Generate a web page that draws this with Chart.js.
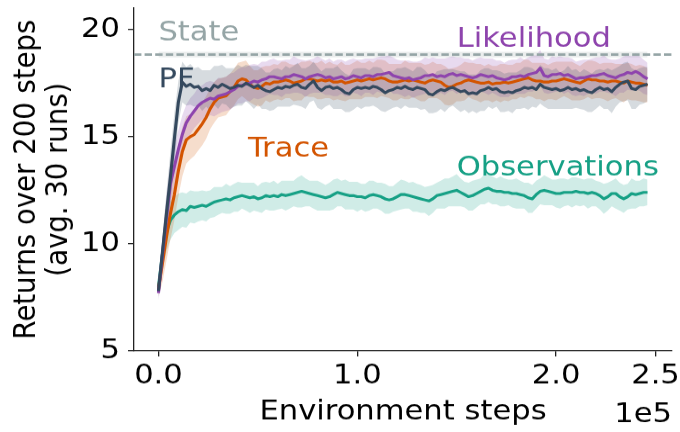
<!DOCTYPE html>
<html>
<head>
<meta charset="utf-8">
<script src="https://cdn.jsdelivr.net/npm/chart.js@4.4.1/dist/chart.umd.min.js"></script>
<style>
  html, body { margin: 0; padding: 0; background: #fff; overflow: hidden; }
  #wrap { width: 680px; height: 480px; transform: scale(1, 0.9); transform-origin: 0 0; }
  canvas { display: block; }
</style>
</head>
<body>
<div id="wrap"><canvas id="c" width="680" height="480"></canvas></div>
<script>
// ---------------- data (environment steps in thousands) ----------------
const stepsK = [
  0,2,4,6,8,10,12,14,16,18,
  20,22,24,26,28,30,32,34,36,38,
  40,42,44,46,48,50,52,54,56,58,
  60,62,64,66,68,70,72,74,76,78,
  80,82,84,86,88,90,92,94,96,98,
  100,102,104,106,108,110,112,114,116,118,
  120,122,124,126,128,130,132,134,136,138,
  140,142,144,146,148,150,152,154,156,158,
  160,162,164,166,168,170,172,174,176,178,
  180,182,184,186,188,190,192,194,196,198,
  200,202,204,206,208,210,212,214,216,218,
  220,222,224,226,228,230,232,234,236,238,
  240,242,244,246
];

const pfMean = [
  7.8,9.6,11.4,13.1,14.9,16.6,17.55,17.35,17.45,17.3,
  17.35,17.15,17.25,17.15,17.4,17.3,17.45,17.35,17.25,17.3,
  17.4,17.35,17.5,17.4,17.3,17.4,17.25,17.15,17.1,17.2,
  17.3,17.25,17.35,17.3,17.4,17.45,17.3,17.25,17.45,17.6,
  17.3,17.15,17.3,17.35,17.25,17.3,17.2,17.05,17.0,17.2,
  17.3,17.25,17.3,17.25,17.35,17.3,17.2,17.05,17.15,17.2,
  17.3,17.25,17.35,17.25,17.2,17.3,17.25,17.2,17.0,16.95,
  17.1,17.2,17.15,17.25,17.3,17.2,17.1,17.15,17.0,17.05,
  17.0,17.15,17.2,17.3,17.2,17.25,17.1,17.05,17.1,17.05,
  17.15,17.2,17.3,17.25,17.3,17.2,17.45,17.3,17.25,17.2,
  17.25,17.15,17.2,17.3,17.2,17.25,17.15,17.2,17.1,17.05,
  17.2,17.3,17.2,17.25,17.1,17.3,17.45,17.55,17.6,17.25,
  17.2,17.35,17.4,17.45
];
const pfSpread = [
  0.35,0.7,1.0,1.2,1.2,1.0,0.95,0.9,0.95,0.9,
  0.9,0.95,0.85,0.95,0.9,1.0,0.9,0.85,0.95,0.9,
  0.95,0.9,0.85,0.9,1.0,0.9,0.95,0.85,0.9,0.95,
  0.9,0.85,0.95,0.9,0.9,1.0,0.9,0.95,0.85,0.9,
  0.95,0.9,0.9,0.85,0.95,1.0,0.9,0.9,0.85,0.95,
  0.9,0.95,0.9,0.85,0.9,0.95,1.0,0.9,0.9,0.85,
  0.9,0.95,0.9,0.9,0.85,0.95,1.0,0.9,0.9,0.85,
  0.95,0.9,1.0,0.9,0.85,0.9,0.95,0.9,0.9,0.85,
  0.9,0.95,1.0,0.9,0.9,0.85,0.95,0.9,0.9,0.95,
  0.85,0.9,0.95,1.0,0.9,0.85,0.9,0.9,0.95,0.9,
  0.95,0.85,0.9,1.0,0.9,0.9,0.85,0.95,0.95,0.9,
  0.9,0.85,0.9,0.95,1.0,0.9,0.85,0.9,0.9,0.95,
  0.9,0.85,0.85,0.8
];

const likMean = [
  7.7,9.5,11.2,12.8,13.6,14.4,15.1,15.65,15.95,16.2,
  16.45,16.6,16.7,16.8,16.75,16.9,16.95,17.0,17.1,17.2,
  17.35,17.4,17.45,17.5,17.6,17.55,17.65,17.7,17.8,17.8,
  17.75,17.7,17.8,17.8,17.9,17.85,17.8,17.7,17.8,17.85,
  17.9,17.85,17.75,17.8,17.7,17.75,17.8,17.7,17.75,17.85,
  17.8,17.75,17.85,17.85,17.8,17.9,17.9,17.95,18.0,17.85,
  17.8,17.75,17.7,17.75,17.65,17.7,17.75,17.85,17.85,17.9,
  17.8,17.85,17.8,17.9,17.95,17.85,17.9,17.85,17.8,17.75,
  17.8,17.9,17.85,17.8,17.85,17.75,17.7,17.65,17.7,17.8,
  17.8,17.85,17.8,17.9,17.95,18.0,18.2,17.85,17.8,17.9,
  17.9,17.95,17.85,17.9,17.8,17.7,17.75,17.75,17.8,17.85,
  17.85,17.9,17.95,17.85,17.8,17.75,17.85,17.9,18.0,17.95,
  18.05,17.95,17.8,17.7
];
const likSpread = [
  0.35,0.8,1.0,1.0,0.95,0.9,0.9,0.85,0.85,0.8,
  0.85,0.8,0.85,0.8,0.8,0.85,0.8,0.8,0.85,0.8,
  0.8,0.85,0.8,0.85,0.8,0.8,0.85,0.8,0.8,0.85,
  0.8,0.85,0.8,0.8,0.85,0.8,0.8,0.85,0.8,0.8,
  0.85,0.8,0.8,0.85,0.8,0.85,0.8,0.8,0.85,0.8,
  0.8,0.85,0.8,0.8,0.85,0.8,0.85,0.8,0.8,0.85,
  0.8,0.8,0.85,0.8,0.85,0.8,0.8,0.85,0.8,0.8,
  0.85,0.8,0.85,0.8,0.8,0.85,0.8,0.8,0.85,0.8,
  0.85,0.8,0.8,0.85,0.8,0.8,0.85,0.8,0.85,0.8,
  0.8,0.85,0.8,0.8,0.85,0.8,0.85,0.8,0.8,0.85,
  0.8,0.8,0.85,0.8,0.85,0.8,0.8,0.85,0.8,0.8,
  0.85,0.8,0.85,0.8,0.8,0.85,0.8,0.85,0.8,0.8,
  0.85,0.8,0.8,0.75
];

const traceMean = [
  7.9,9.1,10.3,11.4,12.3,13.4,14.3,14.85,15.0,15.1,
  15.35,15.6,15.9,16.3,16.6,16.8,16.85,16.9,17.1,17.3,
  17.6,17.7,17.65,17.45,17.3,17.25,17.35,17.5,17.45,17.55,
  17.55,17.6,17.65,17.6,17.5,17.55,17.6,17.7,17.7,17.65,
  17.6,17.65,17.6,17.65,17.55,17.55,17.6,17.5,17.55,17.6,
  17.65,17.6,17.65,17.7,17.65,17.7,17.75,17.7,17.6,17.55,
  17.55,17.6,17.65,17.6,17.65,17.6,17.55,17.5,17.6,17.65,
  17.6,17.55,17.4,17.3,17.35,17.45,17.5,17.6,17.65,17.6,
  17.55,17.5,17.5,17.55,17.45,17.5,17.5,17.55,17.5,17.55,
  17.6,17.65,17.7,17.75,17.65,17.6,17.6,17.55,17.55,17.6,
  17.6,17.65,17.7,17.65,17.6,17.55,17.5,17.6,17.7,17.65,
  17.65,17.6,17.6,17.55,17.6,17.6,17.55,17.5,17.6,17.55,
  17.5,17.5,17.45,17.4
];
const traceSpread = [
  0.35,0.9,1.1,1.2,1.2,1.2,1.15,1.1,1.05,1.0,
  1.0,1.0,1.0,0.95,0.95,0.9,0.9,0.9,0.85,0.85,
  0.85,0.8,0.9,0.85,0.8,0.85,0.9,0.8,0.85,0.85,
  0.8,0.9,0.85,0.8,0.85,0.85,0.9,0.8,0.85,0.8,
  0.85,0.9,0.8,0.85,0.85,0.8,0.9,0.85,0.8,0.85,
  0.9,0.85,0.8,0.85,0.8,0.9,0.85,0.85,0.8,0.85,
  0.85,0.8,0.9,0.85,0.8,0.85,0.9,0.85,0.8,0.85,
  0.8,0.85,0.9,0.85,0.85,0.8,0.85,0.9,0.8,0.85,
  0.85,0.9,0.8,0.85,0.85,0.8,0.9,0.85,0.85,0.8,
  0.85,0.8,0.9,0.85,0.8,0.85,0.85,0.9,0.8,0.85,
  0.9,0.85,0.8,0.85,0.9,0.85,0.8,0.85,0.85,0.9,
  0.85,0.8,0.85,0.9,0.85,0.8,0.85,0.9,0.85,0.85,
  0.8,0.85,0.85,0.8
];

const obsMean = [
  8.0,9.5,10.55,11.1,11.35,11.5,11.6,11.55,11.75,11.7,
  11.75,11.8,11.75,11.85,11.95,12.0,12.05,12.1,12.05,12.15,
  12.2,12.25,12.2,12.15,12.2,12.1,12.15,12.25,12.2,12.25,
  12.2,12.3,12.25,12.3,12.35,12.4,12.45,12.4,12.35,12.3,
  12.25,12.2,12.15,12.2,12.3,12.4,12.35,12.3,12.25,12.25,
  12.2,12.2,12.15,12.25,12.3,12.25,12.2,12.1,12.05,12.1,
  12.2,12.3,12.3,12.25,12.2,12.15,12.1,12.05,12.0,12.1,
  12.25,12.3,12.35,12.4,12.45,12.5,12.4,12.3,12.2,12.25,
  12.35,12.45,12.55,12.6,12.5,12.45,12.45,12.4,12.4,12.35,
  12.35,12.3,12.25,12.15,12.1,12.3,12.45,12.5,12.45,12.4,
  12.35,12.35,12.4,12.4,12.4,12.45,12.4,12.4,12.35,12.4,
  12.35,12.25,12.1,12.2,12.35,12.35,12.2,12.1,12.2,12.35,
  12.3,12.35,12.4,12.4
];
const obsSpread = [
  0.45,0.8,0.9,0.9,0.85,0.85,0.8,0.8,0.75,0.75,
  0.7,0.7,0.7,0.65,0.7,0.65,0.6,0.7,0.65,0.65,
  0.7,0.6,0.65,0.7,0.65,0.6,0.7,0.65,0.65,0.7,
  0.6,0.65,0.7,0.65,0.6,0.7,0.75,0.65,0.6,0.65,
  0.7,0.65,0.6,0.65,0.7,0.65,0.6,0.7,0.65,0.65,
  0.7,0.6,0.65,0.7,0.65,0.6,0.65,0.7,0.65,0.6,
  0.65,0.7,0.65,0.6,0.7,0.65,0.65,0.6,0.7,0.65,
  0.6,0.65,0.7,0.65,0.7,0.75,0.65,0.6,0.65,0.7,
  0.65,0.6,0.7,0.65,0.65,0.6,0.7,0.65,0.6,0.65,
  0.7,0.65,0.6,0.7,0.65,0.65,0.6,0.7,0.65,0.6,
  0.65,0.7,0.65,0.6,0.7,0.65,0.65,0.6,0.7,0.65,
  0.6,0.65,0.7,0.65,0.6,0.7,0.65,0.65,0.6,0.7,
  0.65,0.6,0.65,0.6
];

const stateReturn = 18.83;
const stateSpread = 0.13;

const yTicks = [5, 10, 15, 20];
const xTicks = [0, 100000, 200000, 250000];
const xTickLabels = ['0.0', '1.0', '2.0', '2.5'];
const xOffsetLabel = '1e5';

// ---------------- styles ----------------
const FONT = 'DejaVu Sans';
const FS = 30.6;
const COLORS = {
  pf: '#34495e', lik: '#8e44ad', trace: '#d35400', obs: '#16a085', state: '#95a5a6'
};
const rgba = (hex, a) => {
  const n = parseInt(hex.slice(1), 16);
  return `rgba(${(n >> 16) & 255},${(n >> 8) & 255},${n & 255},${a})`;
};
const seriesLabels = [
  { text: 'State',        color: COLORS.state, x: 0,      y: 19.5 },
  { text: 'PF',           color: COLORS.pf,    x: 0,      y: 17.32 },
  { text: 'Likelihood',   color: COLORS.lik,   x: 150000, y: 19.19 },
  { text: 'Trace',        color: COLORS.trace, x: 45000,  y: 14.06 },
  { text: 'Observations', color: COLORS.obs,   x: 150000, y: 13.2 }
];

// ---------------- datasets ----------------
const pts = (vals) => vals.map((v, i) => ({ x: stepsK[i] * 1000, y: v }));
const upper = (m, s) => m.map((v, i) => v + s[i]);
const lower = (m, s) => m.map((v, i) => v - s[i]);

function meanLine(label, vals, color) {
  return { label, data: pts(vals), borderColor: color, borderWidth: 3.1,
    pointRadius: 0, fill: false, tension: 0, borderJoinStyle: 'round' };
}
function bandPair(label, m, s, color) {
  return [
    { label: label + ' upper', data: pts(upper(m, s)), borderWidth: 0, borderColor: 'rgba(0,0,0,0)',
      backgroundColor: rgba(color, 0.2), pointRadius: 0, fill: '+1', tension: 0 },
    { label: label + ' lower', data: pts(lower(m, s)), borderWidth: 0, borderColor: 'rgba(0,0,0,0)',
      pointRadius: 0, fill: false, tension: 0 }
  ];
}
const lastStep = stepsK[stepsK.length - 1] * 1000;
const datasets = [
  meanLine('PF', pfMean, COLORS.pf),
  meanLine('Likelihood', likMean, COLORS.lik),
  meanLine('Trace', traceMean, COLORS.trace),
  meanLine('Observations', obsMean, COLORS.obs),
  ...bandPair('PF', pfMean, pfSpread, COLORS.pf),
  ...bandPair('Likelihood', likMean, likSpread, COLORS.lik),
  ...bandPair('Trace', traceMean, traceSpread, COLORS.trace),
  ...bandPair('Observations', obsMean, obsSpread, COLORS.obs),
  { label: 'State upper', data: [{ x: 0, y: stateReturn + stateSpread }, { x: lastStep, y: stateReturn + stateSpread }],
    borderWidth: 0, borderColor: 'rgba(0,0,0,0)', backgroundColor: rgba(COLORS.state, 0.2), pointRadius: 0, fill: '+1' },
  { label: 'State lower', data: [{ x: 0, y: stateReturn - stateSpread }, { x: lastStep, y: stateReturn - stateSpread }],
    borderWidth: 0, borderColor: 'rgba(0,0,0,0)', pointRadius: 0, fill: false }
];

// ---------------- annotations plugin ----------------
const annotations = {
  id: 'annotations',
  afterDatasetsDraw(chart) {
    const { ctx, chartArea, scales: { x, y } } = chart;
    ctx.save();
    const yy = y.getPixelForValue(stateReturn);
    ctx.beginPath();
    ctx.setLineDash([7.4, 3.2]);
    ctx.lineWidth = 2.6;
    ctx.strokeStyle = COLORS.state;
    ctx.moveTo(chartArea.left, yy);
    ctx.lineTo(chartArea.right, yy);
    ctx.stroke();
    ctx.setLineDash([]);
    ctx.font = `${FS}px "${FONT}"`;
    ctx.textBaseline = 'alphabetic';
    ctx.textAlign = 'left';
    for (const l of seriesLabels) {
      ctx.fillStyle = l.color;
      ctx.fillText(l.text, x.getPixelForValue(l.x), y.getPixelForValue(l.y));
    }
    ctx.fillStyle = '#000';
    ctx.textAlign = 'right';
    ctx.fillText(xOffsetLabel, chartArea.right, chart.height - 11.4);
    ctx.restore();
  }
};

const AXIS = '#222';
const tickFont = { family: FONT, size: FS };

new Chart(document.getElementById('c'), {
  type: 'line',
  data: { datasets },
  options: {
    responsive: false,
    animation: false,
    devicePixelRatio: 1,
    layout: { padding: { left: 0, right: 8, top: 9, bottom: 0 } },
    plugins: { legend: { display: false }, tooltip: { enabled: false } },
    scales: {
      x: {
        type: 'linear', min: -12300, max: 258300,
        afterBuildTicks: (s) => { s.ticks = xTicks.map(v => ({ value: v })); },
        afterFit: (s) => { s.height = 90; s.paddingLeft = 0; s.paddingRight = 0; },
        ticks: { font: tickFont, color: '#000', padding: 4, maxRotation: 0, autoSkip: false,
          callback: (v, i) => xTickLabels[i] },
        grid: { drawOnChartArea: false, drawTicks: true, tickLength: 6, color: AXIS, lineWidth: 1.3 },
        border: { display: true, color: AXIS, width: 1.3 },
        title: { display: true, text: 'Environment steps', color: '#000',
          font: { family: FONT, size: FS }, padding: { top: 0, bottom: 3.5 } }
      },
      y: {
        type: 'linear', min: 5, max: 21,
        afterBuildTicks: (s) => { s.ticks = yTicks.map(v => ({ value: v })); },
        afterFit: (s) => { s.width = 134; s.paddingTop = 0; s.paddingBottom = 0; },
        ticks: { font: tickFont, color: '#000', padding: 8 },
        grid: { drawOnChartArea: false, drawTicks: true, tickLength: 6, color: AXIS, lineWidth: 1.3 },
        border: { display: true, color: AXIS, width: 1.3 },
        title: { display: true, text: ['Returns over 200 steps', '(avg. 30 runs)'], color: '#000',
          font: { family: FONT, size: FS, lineHeight: 1.06 }, padding: { top: 10.5, bottom: 0 } }
      }
    }
  },
  plugins: [annotations]
});
</script>
</body>
</html>
